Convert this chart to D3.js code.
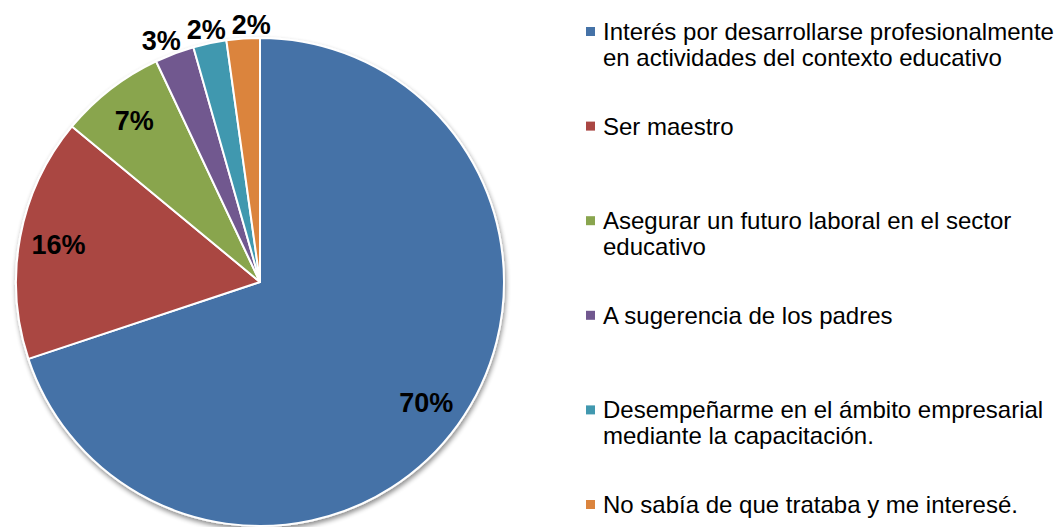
<!DOCTYPE html>
<html>
<head>
<meta charset="utf-8">
<script src="https://cdn.jsdelivr.net/npm/d3@7"></script>
<style>
  body { margin: 0; background: #fff; }
  text { font-family: "Liberation Sans", Arial, sans-serif; }
</style>
</head>
<body>
<div id="chart"></div>
<script>
var width  = 1055;
var height = 527;

// data (percent of respondents)
var categories = [
  "Interés por desarrollarse profesionalmente|en actividades del contexto educativo",
  "Ser maestro",
  "Asegurar un futuro laboral en el sector|educativo",
  "A sugerencia de los padres",
  "Desempeñarme en el ámbito empresarial|mediante la capacitación.",
  "No sabía de que trataba y me interesé."
];
var values = [69.9, 16.1, 7.0, 2.6, 2.2, 2.2];
var colors = ["#4572A7", "#AA4643", "#89A54E", "#71588F", "#4198AF", "#DB843D"];

var data = categories.map(function(c, i) {
  return { name: c, value: values[i], color: colors[i] };
});

var cx = 260, cy = 282, radius = 244;

var svg = d3.select("#chart").append("svg")
  .attr("width", width)
  .attr("height", height);

// soft shadow under the pie
var defs = svg.append("defs");
var f = defs.append("filter").attr("id", "shadow")
  .attr("x", "-10%").attr("y", "-10%").attr("width", "120%").attr("height", "120%");
f.append("feGaussianBlur").attr("in", "SourceAlpha").attr("stdDeviation", 2.5);
f.append("feOffset").attr("dx", 1).attr("dy", 3).attr("result", "off");
f.append("feComponentTransfer").append("feFuncA").attr("type", "linear").attr("slope", 0.45);
var merge = f.append("feMerge");
merge.append("feMergeNode");
merge.append("feMergeNode").attr("in", "SourceGraphic");

var pie = d3.pie().sort(null).value(function(d) { return d.value; });
var arcs = pie(data);

var arc = d3.arc().innerRadius(0).outerRadius(radius);
var inLabel = d3.arc().innerRadius(205).outerRadius(205);
var outLabel = d3.arc().innerRadius(258).outerRadius(258);

var g = svg.append("g").attr("transform", "translate(" + cx + "," + cy + ")");

g.append("g").attr("filter", "url(#shadow)")
  .selectAll("path").data(arcs)
  .enter().append("path")
  .attr("d", arc)
  .attr("fill", function(d) { return d.data.color; })
  .attr("stroke", "#fff")
  .attr("stroke-width", 2)
  .attr("stroke-linejoin", "round");

// labels: big slices inside, small ones outside and spread apart
var labels = arcs.map(function(d) {
  var inside = d.data.value > 5;
  var p = inside ? inLabel.centroid(d) : outLabel.centroid(d);
  return { x: p[0], y: p[1], inside: inside, text: Math.round(d.data.value) + "%" };
});
var outs = labels.filter(function(l) { return !l.inside; });
var minGap = 45;
var mean = d3.mean(outs, function(l) { return l.x; });
outs.forEach(function(l, i) {
  l.x = mean + (i - (outs.length - 1) / 2) * minGap;
});

g.selectAll("text.lbl").data(labels)
  .enter().append("text")
  .attr("class", "lbl")
  .attr("x", function(d) { return d.x; })
  .attr("y", function(d) { return d.y; })
  .attr("dy", "0.36em")
  .attr("text-anchor", "middle")
  .attr("font-size", 27)
  .attr("font-weight", "bold")
  .attr("fill", "#000")
  .text(function(d) { return d.text; });

// legend
var legendX = 586, legendTop = 40, legendStep = 94.6, lineH = 25.5;
var legend = svg.append("g").attr("class", "legend");
var items = legend.selectAll("g").data(data)
  .enter().append("g")
  .attr("transform", function(d, i) { return "translate(" + legendX + "," + (legendTop + i * legendStep) + ")"; });

items.append("rect")
  .attr("x", 0).attr("y", -13)
  .attr("width", 9).attr("height", 9)
  .attr("fill", function(d) { return d.color; });

items.append("text")
  .attr("x", 17)
  .attr("font-size", 24)
  .attr("fill", "#000")
  .selectAll("tspan").data(function(d) { return d.name.split("|"); })
  .enter().append("tspan")
  .attr("x", 17)
  .attr("y", function(d, i) { return i * lineH; })
  .text(function(d) { return d; });
</script>
</body>
</html>
